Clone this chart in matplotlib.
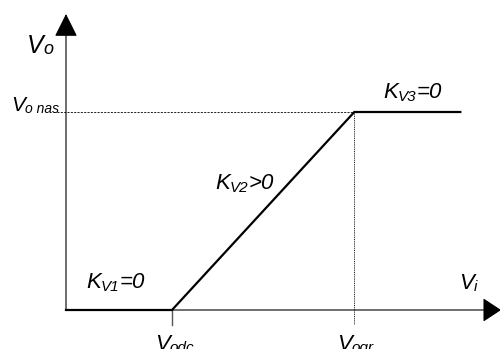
#!/usr/bin/env python3
"""Transfer characteristic Vo(Vi) with three gain regions (KV1, KV2, KV3)."""

import matplotlib

matplotlib.use("Agg")
import matplotlib.pyplot as plt

plt.rcParams["font.family"] = ["Liberation Sans", "DejaVu Sans"]
plt.rcParams["font.style"] = "italic"

# characteristic: cut-off, linear rise, saturation
vi_pts = [0.0, 1.0, 2.72, 3.72]
vo_pts = [0.0, 0.0, 1.0, 1.0]
v_odc = 1.0
v_ogr = 2.72
vo_nas = 1.0

# figure pixel -> data mapping (origin at px 66, 310)
X0, Y0, SX, SY = 66.0, 310.0, 106.0, 198.0


def P(px, py):
    return (px - X0) / SX, (Y0 - py) / SY


def label(ax, px, py, main, sub, tail="", size=16, sub_size=11, drop=3):
    x, y = P(px, py)
    t = ax.text(x, y, main, fontsize=size, va="baseline", ha="left")
    s = ax.annotate(sub, xy=(1, y), xycoords=(t, "data"),
                    xytext=(0, -drop), textcoords="offset pixels",
                    fontsize=sub_size, va="baseline", ha="left")
    if tail:
        ax.annotate(tail, xy=(1, y), xycoords=(s, "data"),
                    xytext=(0, 0), textcoords="offset pixels",
                    fontsize=size, va="baseline", ha="left")


def main():
    fig = plt.figure(figsize=(5.0, 3.49), dpi=100)
    ax = fig.add_axes([0, 0, 1, 1])
    ax.set_xlim(-X0 / SX, (500 - X0) / SX)
    ax.set_ylim((Y0 - 349) / SY, Y0 / SY)
    ax.axis("off")

    # axes with arrowheads
    ax.annotate("", xy=P(66, 14), xytext=P(66, 310), annotation_clip=False,
                arrowprops=dict(arrowstyle="-|>,head_length=14.4,head_width=7.2",
                                lw=0.8, color="black", shrinkA=0, shrinkB=0,
                                mutation_scale=1))
    ax.annotate("", xy=P(501, 310), xytext=P(66, 310), annotation_clip=False,
                arrowprops=dict(arrowstyle="-|>,head_length=11.5,head_width=7.6",
                                lw=0.8, color="black", shrinkA=0, shrinkB=0,
                                mutation_scale=1))

    # guides
    ax.plot([P(57, 0)[0], v_ogr], [vo_nas, vo_nas], color="black", lw=0.6,
            ls=(0, (2.5, 1.5)))
    ax.plot([v_ogr, v_ogr], [vo_nas, P(0, 324)[1]], color="black", lw=0.6,
            ls=(0, (1.2, 1.0)))
    ax.plot([v_odc, v_odc], [0, P(0, 325)[1]], color="#555555", lw=1.0)

    # characteristic
    ax.plot(vi_pts, vo_pts, color="black", lw=1.6, solid_joinstyle="miter")

    # labels
    label(ax, 27, 53, "V", "o", size=18, sub_size=13, drop=1)
    label(ax, 11, 111, "V", "o nas", size=15, sub_size=10, drop=2)
    label(ax, 459, 289, "V", "i", size=16, sub_size=11, drop=2)
    label(ax, 383, 98, "K", "V3", "=0")
    label(ax, 215, 189, "K", "V2", ">0")
    label(ax, 86, 288, "K", "V1", "=0")
    label(ax, 155, 350, "V", "odc", size=16, sub_size=11, drop=2)
    label(ax, 337, 350, "V", "ogr", size=16, sub_size=11, drop=2)

    fig.savefig("out.png", dpi=100)
    plt.close(fig)


if __name__ == "__main__":
    main()
